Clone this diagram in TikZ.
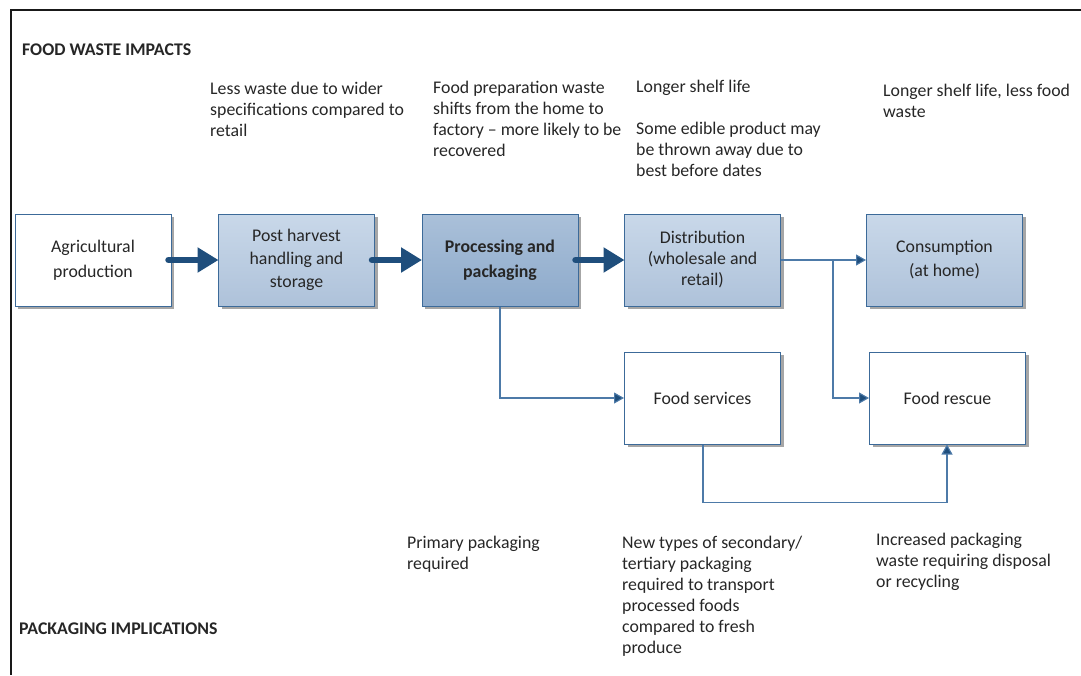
\documentclass[tikz,border=0pt]{standalone}
\usepackage{fontspec}
\setmainfont{Carlito}
\usetikzlibrary{arrows.meta,shadows}
\definecolor{bord}{HTML}{3C6A99}
\definecolor{thick}{HTML}{1F4E7C}
\definecolor{thin}{HTML}{4D7AA8}
\definecolor{lt}{HTML}{C9D8E9}
\definecolor{lb}{HTML}{AEC2DA}
\definecolor{dt}{HTML}{AAC0D9}
\definecolor{db}{HTML}{8DAACB}
\definecolor{txt}{HTML}{262626}
\tikzset{
  box/.style={draw=bord, line width=1pt, minimum width=156pt, minimum height=92pt,
    align=center, inner sep=2pt, text=txt, font=\fontsize{17.8}{25}\selectfont,
    general shadow={shadow xshift=3pt, shadow yshift=-3pt, fill=black!35}},
  whitebox/.style={box, fill=white},
  lightbox/.style={box, top color=lt, bottom color=lb},
  darkbox/.style={box, top color=dt, bottom color=db},
  bigarrow/.style={draw=thick, line width=6.5pt, line cap=round,
    -{Triangle[length=21pt,width=24pt]}, shorten >=-0.5pt},
  thinarrow/.style={draw=thin, line width=1.1pt, -{Triangle[length=10pt,width=11pt,fill=thick]}},
  note/.style={anchor=base west, align=left, inner sep=0pt, text=txt, font=\fontsize{17.8}{21}\selectfont},
  heading/.style={anchor=base west, inner sep=0pt, text=txt, font=\fontsize{17.8}{21}\selectfont\bfseries},
}
\begin{document}
\begin{tikzpicture}[x=1pt,y=-1pt]
\useasboundingbox (0,0) rectangle (1081,675);
% frame
\draw[line width=2pt, black!90] (1081,10) -- (11,10) -- (11,675);

% boxes
\node[whitebox] (agri) at (93,260) {Agricultural\\production};
\node[lightbox, font=\fontsize{17.8}{23}\selectfont] (post) at (296.5,260) {Post harvest\\handling and\\storage};
\node[darkbox, font=\fontsize{17.8}{25}\selectfont\bfseries] (proc) at (500,260) {Processing and\\packaging};
\node[lightbox, font=\fontsize{17.8}{21}\selectfont] (dist) at (702.5,260) {Distribution\\(wholesale and\\retail)};
\node[lightbox, font=\fontsize{17.8}{24}\selectfont] (cons) at (944.5,260) {Consumption\\(at home)};
\node[whitebox] (serv) at (702.5,398) {Food services};
\node[whitebox] (resc) at (947.5,398) {Food rescue};

% thick arrows
\draw[bigarrow] ([xshift=-3pt]agri.east) -- (post.west);
\draw[bigarrow] ([xshift=-3pt]post.east) -- (proc.west);
\draw[bigarrow] ([xshift=-3pt]proc.east) -- (dist.west);

% thin connectors
\coordinate (split) at (833,260);
\coordinate (servbot) at (703,444);
\coordinate (rescbot) at (947,444);
\draw[thinarrow] (dist.east) -- (cons.west);
\draw[thinarrow] (split) |- (resc.west);
\draw[thinarrow] (proc.south) |- (serv.west);
\draw[thinarrow] (serv.south -| servbot) -- ++(0,58) -| (resc.south -| rescbot);

% headings
\node[heading] (h1) at (22,55) {FOOD WASTE IMPACTS};
\node[heading] (h2) at (19,634) {PACKAGING IMPLICATIONS};

% notes top (anchor = baseline of last line)
\node[note] (n1) at (210,136) {Less waste due to wider\\specifications compared to\\retail};
\node[note] (n2) at (433,156) {Food preparation waste\\shifts from the home to\\factory – more likely to be\\recovered};
\node[note] (n3) at (636,176) {Longer shelf life\\[21pt]Some edible product may\\be thrown away due to\\best before dates};
\node[note] (n4) at (883,117) {Longer shelf life, less food\\waste};

% notes bottom
\node[note] (n5) at (407,569) {Primary packaging\\required};
\node[note] (n6) at (622,653) {New types of secondary/\\tertiary packaging\\required to transport\\processed foods\\compared to fresh\\produce};
\node[note] (n7) at (876,587) {Increased packaging\\waste requiring disposal\\or recycling};
\end{tikzpicture}
\end{document}
